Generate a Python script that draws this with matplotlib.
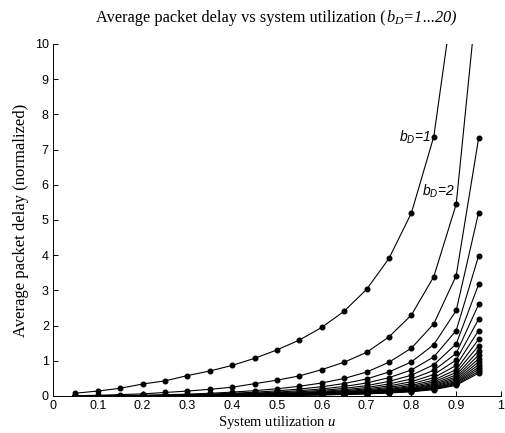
import matplotlib
matplotlib.use("Agg")
import matplotlib.pyplot as plt

plt.rcParams['mathtext.fontset'] = 'custom'
plt.rcParams['mathtext.rm'] = 'Liberation Serif'
plt.rcParams['mathtext.it'] = 'Liberation Serif:italic'
plt.rcParams['mathtext.sf'] = 'Liberation Sans:italic'

# System utilization values
u = [0.05, 0.10, 0.15, 0.20, 0.25, 0.30, 0.35, 0.40, 0.45, 0.50,
     0.55, 0.60, 0.65, 0.70, 0.75, 0.80, 0.85, 0.90, 0.95]

# Average packet delay (normalized) for b_D = 1 ... 20
d1 = [0.08, 0.14, 0.22, 0.34, 0.43, 0.58, 0.71, 0.87, 1.07, 1.31,
      1.59, 1.95, 2.41, 3.03, 3.91, 5.20, 7.37, 11.9, 24.7]
d2 = [0.01, 0.02, 0.04, 0.06, 0.10, 0.14, 0.19, 0.25, 0.35, 0.45,
      0.57, 0.75, 0.96, 1.24, 1.68, 2.30, 3.39, 5.45, 11.8]
d3 = [0.001, 0.004, 0.011, 0.020, 0.034, 0.053, 0.077, 0.110, 0.152, 0.205,
      0.277, 0.370, 0.498, 0.681, 0.959, 1.36, 2.05, 3.42, 7.32]
d4 = [0.0008, 0.003, 0.008, 0.015, 0.025, 0.038, 0.055, 0.078, 0.108, 0.146,
      0.197, 0.263, 0.354, 0.485, 0.683, 0.969, 1.46, 2.43, 5.21]
d5 = [0.0006, 0.0024, 0.006, 0.011, 0.019, 0.029, 0.042, 0.060, 0.082, 0.111,
      0.150, 0.201, 0.271, 0.370, 0.521, 0.740, 1.11, 1.86, 3.98]
d6 = [0.0005, 0.0019, 0.0048, 0.0089, 0.015, 0.023, 0.033, 0.048, 0.066, 0.089,
      0.120, 0.160, 0.216, 0.295, 0.415, 0.590, 0.888, 1.48, 3.17]
d7 = [0.0004, 0.0016, 0.0039, 0.0073, 0.012, 0.019, 0.027, 0.039, 0.054, 0.073,
      0.098, 0.131, 0.177, 0.242, 0.341, 0.484, 0.728, 1.21, 2.60]
d8 = [0.0003, 0.0013, 0.0033, 0.0061, 0.010, 0.016, 0.023, 0.033, 0.045, 0.061,
      0.082, 0.110, 0.148, 0.203, 0.286, 0.406, 0.610, 1.02, 2.18]
d9 = [0.0003, 0.0011, 0.0028, 0.0052, 0.0087, 0.013, 0.020, 0.028, 0.039, 0.052,
      0.070, 0.094, 0.127, 0.173, 0.244, 0.346, 0.521, 0.869, 1.86]
d10 = [0.0002, 0.0010, 0.0024, 0.0045, 0.0076, 0.012, 0.017, 0.024, 0.033, 0.045,
       0.061, 0.081, 0.110, 0.150, 0.211, 0.300, 0.451, 0.752, 1.61]
d11 = [0.0002, 0.0009, 0.0021, 0.0040, 0.0067, 0.010, 0.015, 0.022, 0.030, 0.040,
       0.054, 0.072, 0.097, 0.133, 0.187, 0.266, 0.400, 0.668, 1.43]
d12 = [0.0002, 0.0008, 0.0019, 0.0036, 0.0060, 0.0092, 0.013, 0.019, 0.027, 0.036,
       0.048, 0.065, 0.087, 0.119, 0.168, 0.238, 0.358, 0.598, 1.28]
d13 = [0.0002, 0.0007, 0.0017, 0.0032, 0.0055, 0.0084, 0.012, 0.017, 0.024, 0.033,
       0.044, 0.059, 0.079, 0.108, 0.152, 0.216, 0.325, 0.542, 1.16]
d14 = [0.0002, 0.0006, 0.0016, 0.0030, 0.0050, 0.0076, 0.011, 0.016, 0.022, 0.030,
       0.040, 0.054, 0.072, 0.099, 0.139, 0.197, 0.297, 0.495, 1.06]
d15 = [0.0001, 0.0006, 0.0015, 0.0027, 0.0046, 0.0070, 0.010, 0.015, 0.020, 0.027,
       0.037, 0.049, 0.066, 0.090, 0.127, 0.180, 0.272, 0.453, 0.97]
d16 = [0.0001, 0.0005, 0.0013, 0.0025, 0.0042, 0.0064, 0.0093, 0.013, 0.018, 0.025,
       0.034, 0.045, 0.061, 0.083, 0.117, 0.166, 0.249, 0.416, 0.89]
d17 = [0.0001, 0.0005, 0.0012, 0.0023, 0.0039, 0.0059, 0.0086, 0.012, 0.017, 0.023,
       0.031, 0.041, 0.056, 0.076, 0.107, 0.153, 0.230, 0.383, 0.82]
d18 = [0.0001, 0.0005, 0.0011, 0.0021, 0.0036, 0.0055, 0.0080, 0.011, 0.016, 0.021,
       0.029, 0.038, 0.052, 0.071, 0.100, 0.141, 0.213, 0.355, 0.76]
d19 = [0.0001, 0.0004, 0.0011, 0.0020, 0.0033, 0.0050, 0.0074, 0.011, 0.015, 0.020,
       0.027, 0.035, 0.048, 0.065, 0.092, 0.130, 0.196, 0.327, 0.70]
d20 = [0.0001, 0.0004, 0.0010, 0.0018, 0.0031, 0.0047, 0.0068, 0.010, 0.014, 0.018,
       0.025, 0.033, 0.044, 0.061, 0.085, 0.121, 0.182, 0.304, 0.65]

curves = [d1, d2, d3, d4, d5, d6, d7, d8, d9, d10,
          d11, d12, d13, d14, d15, d16, d17, d18, d19, d20]

x_ticks = [0, 0.1, 0.2, 0.3, 0.4, 0.5, 0.6, 0.7, 0.8, 0.9, 1]
x_tick_labels = ['0', '0.1', '0.2', '0.3', '0.4', '0.5', '0.6', '0.7', '0.8', '0.9', '1']
y_ticks = [0, 1, 2, 3, 4, 5, 6, 7, 8, 9, 10]

title_plain = 'Average packet delay vs system utilization ('
title_ital = r'$b_D$=1...20)'

fig = plt.figure(figsize=(5.06, 4.33), dpi=100)
ax = fig.add_axes([53 / 506, 37 / 433, 448 / 506, 352 / 433])

for d in curves:
    ax.plot(u, d, color='black', linewidth=0.8, marker='o', markersize=3.3,
            markerfacecolor='black', markeredgecolor='black')

ax.set_xlim(0, 1)
ax.set_ylim(0, 10)
ax.set_xticks(x_ticks)
ax.set_xticklabels(x_tick_labels)
ax.set_yticks(y_ticks)
for lab in ax.get_xticklabels() + ax.get_yticklabels():
    lab.set_fontfamily('Liberation Sans')
    lab.set_fontsize(9)
ax.tick_params(direction='in', length=3.5, width=0.7, pad=3)

ax.spines['top'].set_visible(False)
ax.spines['right'].set_visible(False)
ax.spines['left'].set_linewidth(0.7)
ax.spines['bottom'].set_linewidth(0.7)

ax.set_xlabel(r'System utilization $u$', fontfamily='Liberation Serif',
              fontsize=10.5, labelpad=1)
ax.set_ylabel('Average packet delay (normalized)', fontfamily='Liberation Serif',
              fontsize=12, labelpad=4)

# Title in two pieces: upright part, then italic part
fs_title = 11.8
ty = 1 - 22 / 433
t1 = fig.text(0, ty, title_plain, fontfamily='Liberation Serif', fontsize=fs_title,
              ha='left', va='baseline')
t2 = fig.text(0, ty, title_ital, fontfamily='Liberation Serif', fontstyle='italic',
              fontsize=fs_title, ha='left', va='baseline')
fig.canvas.draw()
r = fig.canvas.get_renderer()
w1 = t1.get_window_extent(r).width / fig.bbox.width
w2 = t2.get_window_extent(r).width / fig.bbox.width
cx = (53 + 501) / 2 / 506
x0 = cx - (w1 + w2) / 2
t1.set_x(x0)
t2.set_x(x0 + w1)

ax.text(0.844, 7.24, r'$\mathsf{b_D}$=1', ha='right', va='baseline', fontsize=10,
        fontfamily='Liberation Sans', fontstyle='italic')
ax.text(0.897, 5.69, r'$\mathsf{b_D}$=2', ha='right', va='baseline', fontsize=10,
        fontfamily='Liberation Sans', fontstyle='italic')

fig.savefig('out.png', dpi=100)
